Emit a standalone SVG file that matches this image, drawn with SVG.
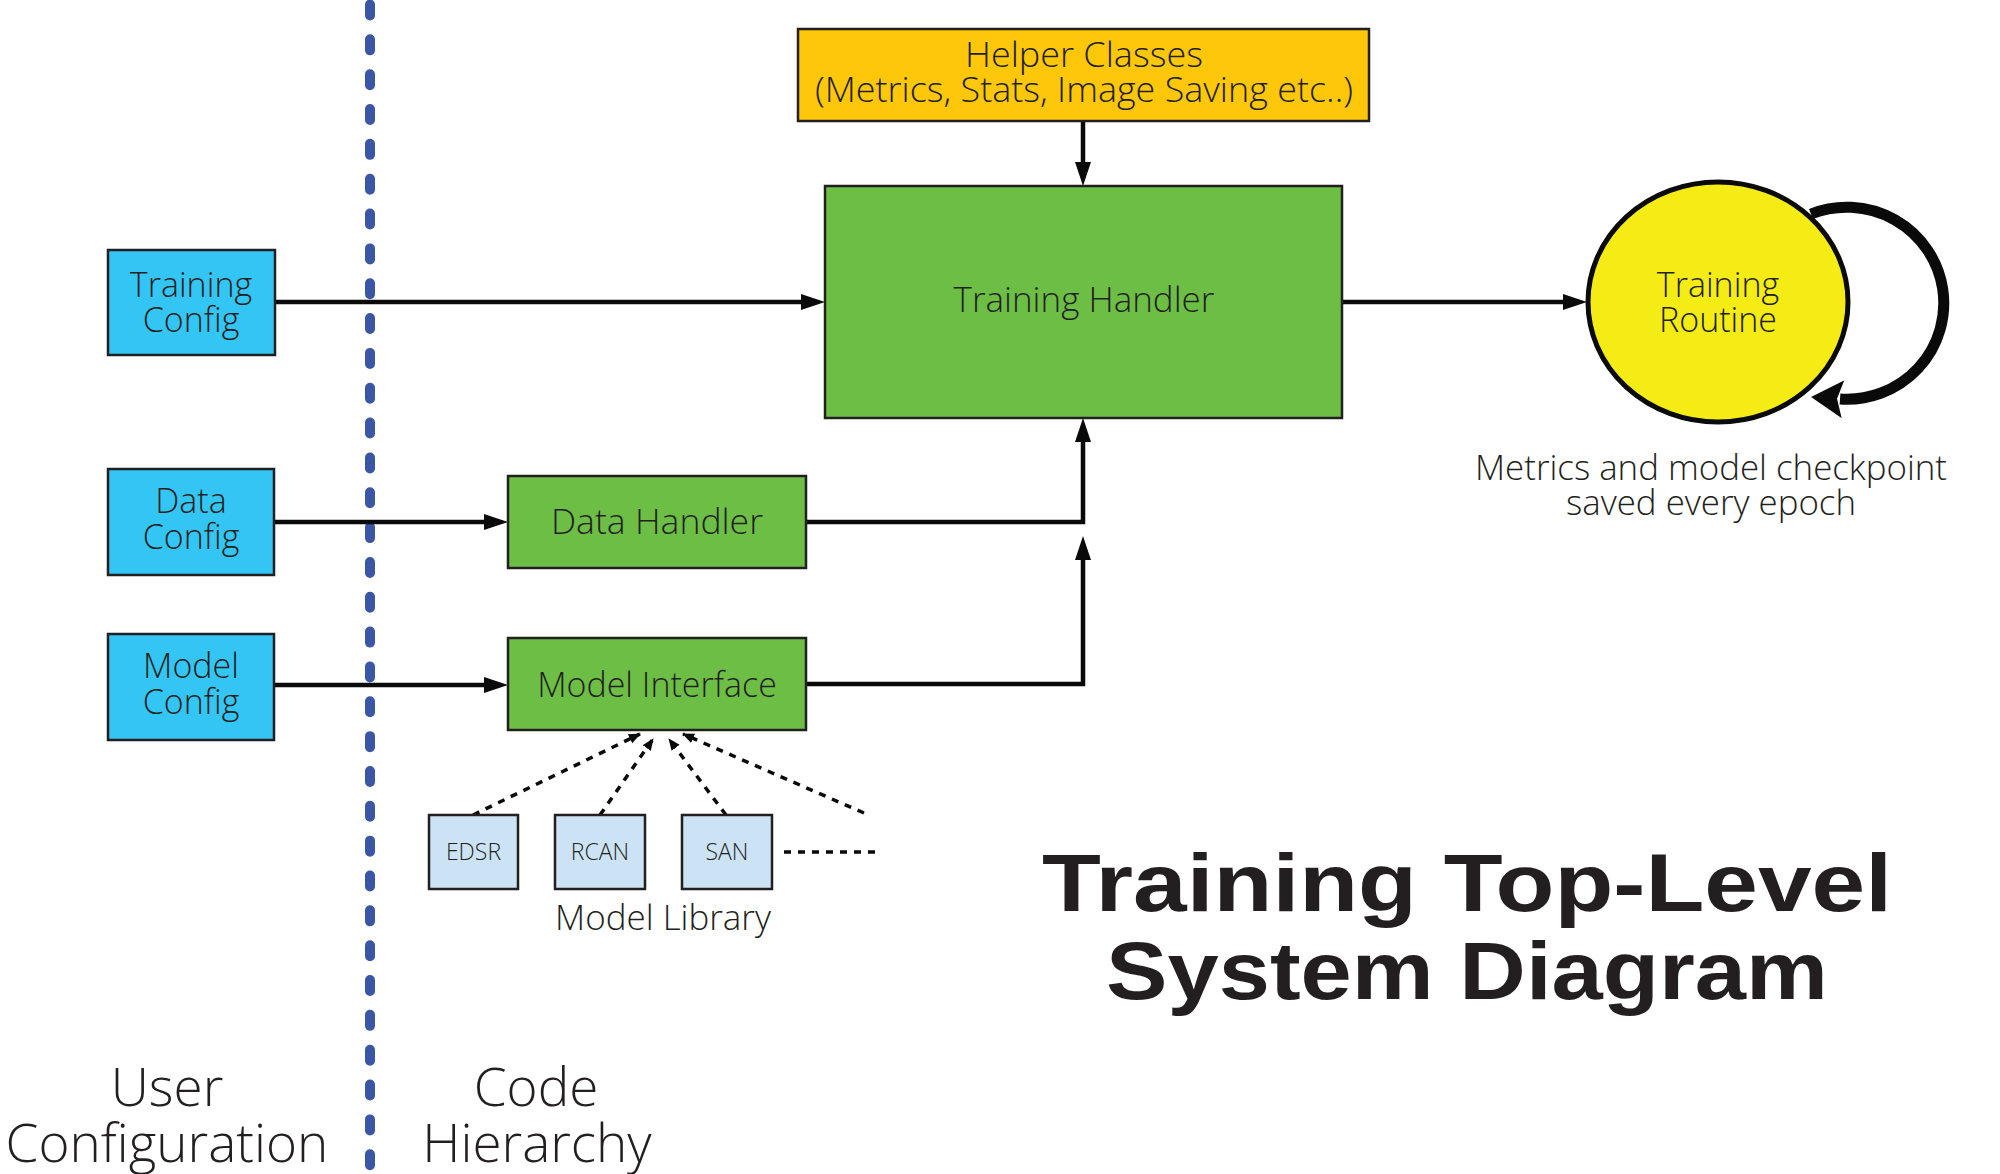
<svg xmlns="http://www.w3.org/2000/svg" width="2000" height="1174" viewBox="0 0 2000 1174">
<style>
text{font-family:"Open Sans","Noto Sans",sans-serif;font-weight:300;fill:#231f20;text-anchor:middle}
.box{stroke:#231f20;stroke-width:2.5}
.cfg{fill:#33c6f4}
.grn{fill:#6dbe45}
.lib{fill:#cce3f5}
.t34{font-size:34px}
.conn{fill:none;stroke:#0a0a0a;stroke-width:4.5}
.dot{fill:none;stroke:#0a0a0a;stroke-width:3.5;stroke-dasharray:7 7}
.title{font-family:"Liberation Sans",Arial,sans-serif;font-weight:bold;font-size:82px}
</style>
<defs>
<marker id="arr" markerUnits="userSpaceOnUse" markerWidth="26" markerHeight="18" refX="14" refY="8" orient="auto">
<path d="M0,0 L24,8 L0,16 z" fill="#0a0a0a"/>
</marker>
<marker id="darr" markerUnits="userSpaceOnUse" markerWidth="14" markerHeight="12" refX="11" refY="5" orient="auto">
<path d="M0,0 L12,5 L0,10 z" fill="#0a0a0a"/>
</marker>
<marker id="loop" markerUnits="userSpaceOnUse" markerWidth="34" markerHeight="40" refX="3" refY="19" orient="auto">
<path d="M0,0 L32,19 L0,38 L6,19 z" fill="#0a0a0a"/>
</marker>
</defs>

<line x1="370" y1="4.5" x2="370" y2="1168" stroke="#3c56a6" stroke-width="10" stroke-linecap="round" stroke-dasharray="11 23.84"/>

<g id="connectors">
<path class="conn" d="M275,302 H815" marker-end="url(#arr)"/>
<path class="conn" d="M274,522 H498" marker-end="url(#arr)"/>
<path class="conn" d="M274,685 H498" marker-end="url(#arr)"/>
<path class="conn" d="M806,522 H1083 V428" marker-end="url(#arr)"/>
<path class="conn" d="M806,684 H1083 V546" marker-end="url(#arr)"/>
<path class="conn" d="M1083,121 V176" marker-end="url(#arr)"/>
<path class="conn" d="M1342,302 H1577" marker-end="url(#arr)"/>
<path fill="none" stroke="#0a0a0a" stroke-width="11" d="M1811,214 A97 96 0 1 1 1840,399" marker-end="url(#loop)"/>
<path class="dot" d="M473,815 L640,734" marker-end="url(#darr)"/>
<path class="dot" d="M600,815 L653,739" marker-end="url(#darr)"/>
<path class="dot" d="M726,815 L669,739" marker-end="url(#darr)"/>
<path class="dot" d="M864,813 L683,734" marker-end="url(#darr)"/>
<path class="dot" d="M784,852 H878"/>
</g>

<g id="training-config">
<rect class="box cfg" x="108" y="250" width="167" height="105"/>
<text class="t34" x="191" y="297">Training</text>
<text class="t34" x="191" y="332">Config</text>
</g>
<g id="data-config">
<rect class="box cfg" x="108" y="469" width="166" height="106"/>
<text class="t34" x="191" y="513">Data</text>
<text class="t34" x="191" y="549">Config</text>
</g>
<g id="model-config">
<rect class="box cfg" x="108" y="634" width="166" height="106"/>
<text class="t34" x="191" y="678">Model</text>
<text class="t34" x="191" y="714">Config</text>
</g>

<g id="data-handler">
<rect class="box grn" x="508" y="476" width="298" height="92"/>
<text x="657" y="534" font-size="35" textLength="212" lengthAdjust="spacingAndGlyphs">Data Handler</text>
</g>
<g id="model-interface">
<rect class="box grn" x="508" y="638" width="298" height="92"/>
<text class="t34" x="657" y="697">Model Interface</text>
</g>

<g id="helper-classes">
<rect class="box" fill="#fec70a" x="798" y="29" width="571" height="92"/>
<text class="t34" x="1084" y="67" textLength="238" lengthAdjust="spacingAndGlyphs">Helper Classes</text>
<text class="t34" x="1084" y="102" textLength="538" lengthAdjust="spacingAndGlyphs">(Metrics, Stats, Image Saving etc..)</text>
</g>

<g id="training-handler">
<rect class="box grn" x="825" y="186" width="517" height="232"/>
<text x="1084" y="312" font-size="35">Training Handler</text>
</g>

<g id="training-routine">
<ellipse cx="1718" cy="302" rx="130" ry="120" fill="#f5ec15" stroke="#0a0a0a" stroke-width="5"/>
<text class="t34" x="1718" y="297">Training</text>
<text class="t34" x="1718" y="332">Routine</text>
</g>
<g id="routine-note">
<text class="t34" x="1711" y="480" textLength="472" lengthAdjust="spacingAndGlyphs">Metrics and model checkpoint</text>
<text class="t34" x="1711" y="515" textLength="290" lengthAdjust="spacingAndGlyphs">saved every epoch</text>
</g>

<g id="edsr">
<rect class="box lib" x="429" y="815" width="89" height="74"/>
<text x="473.5" y="860" font-size="23">EDSR</text>
</g>
<g id="rcan">
<rect class="box lib" x="555" y="815" width="90" height="74"/>
<text x="600" y="860" font-size="23">RCAN</text>
</g>
<g id="san">
<rect class="box lib" x="682" y="815" width="90" height="74"/>
<text x="727" y="860" font-size="23">SAN</text>
</g>
<g id="model-library-label">
<text class="t34" x="663" y="930" textLength="216" lengthAdjust="spacingAndGlyphs">Model Library</text>
</g>

<g id="title">
<text class="title" x="1467" y="911" textLength="850" lengthAdjust="spacingAndGlyphs">Training Top-Level</text>
<text class="title" x="1467" y="999" textLength="722" lengthAdjust="spacingAndGlyphs">System Diagram</text>
</g>

<g id="section-labels">
<text x="167" y="1106" font-size="53">User</text>
<text x="167" y="1162" font-size="53">Configuration</text>
<text x="536" y="1106" font-size="53">Code</text>
<text x="537" y="1162" font-size="53">Hierarchy</text>
</g>
</svg>
